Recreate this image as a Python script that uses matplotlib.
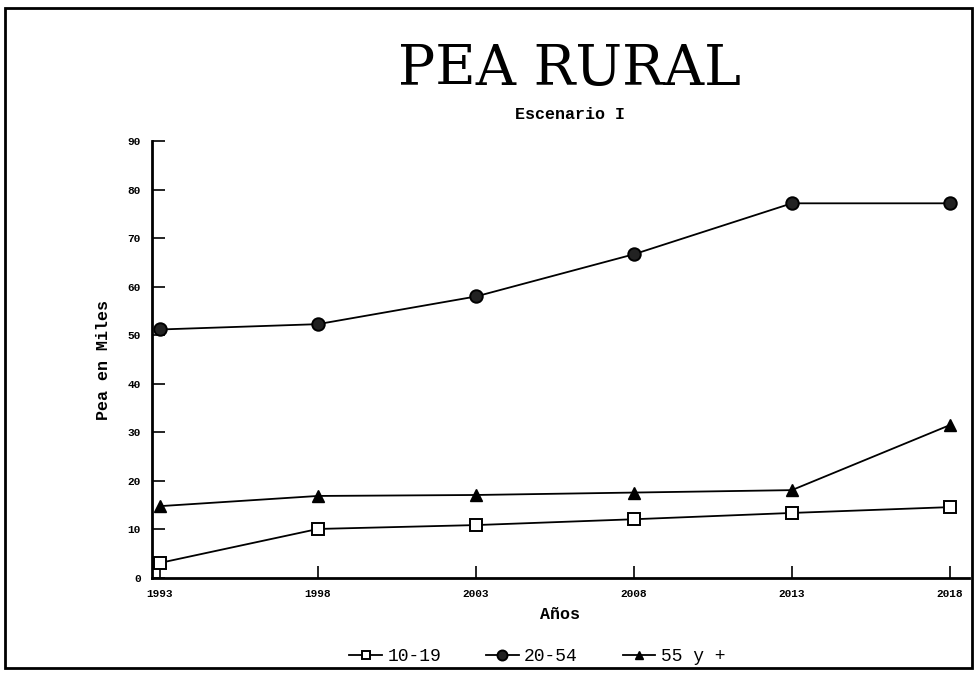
import matplotlib
matplotlib.use('Agg')
import matplotlib.pyplot as plt
from matplotlib.patches import Rectangle

plt.rcParams['font.family'] = ['Liberation Mono', 'DejaVu Sans Mono']

years = [1993, 1998, 2003, 2008, 2013, 2018]
year_labels = ['1993', '1998', '2003', '2008', '2013', '2018']
pea_10_19 = [3.1, 10.1, 10.9, 12.1, 13.4, 14.6]
pea_20_54 = [51.2, 52.3, 58.0, 66.7, 77.2, 77.2]
pea_55_mas = [14.8, 16.9, 17.1, 17.6, 18.1, 31.5]
series_names = ['10-19', '20-54', '55 y +']

fig = plt.figure(figsize=(9.77, 6.73), dpi=100)
ax = fig.add_axes([0.1556, 0.1412, 0.836, 0.649])

ax.plot(years, pea_10_19, color='black', lw=1.3, marker='s', ms=8,
        mfc='white', mec='black', mew=1.4, label=series_names[0])
ax.plot(years, pea_20_54, color='black', lw=1.3, marker='o', ms=9,
        mfc='#222222', mec='black', mew=1.4, label=series_names[1])
ax.plot(years, pea_55_mas, color='black', lw=1.3, marker='^', ms=8,
        mfc='black', mec='black', mew=1.0, label=series_names[2])

ax.set_ylim(0, 90)
ax.set_xlim(1992.75, 2018.6)
ax.set_yticks(range(0, 91, 10))
ax.set_xticks(years)
ax.set_xticklabels(year_labels)

for s in ['top', 'right']:
    ax.spines[s].set_visible(False)
for s in ['left', 'bottom']:
    ax.spines[s].set_linewidth(2)

ax.tick_params(direction='in', length=9, width=1.2, labelsize=8)
ax.tick_params(axis='y', pad=8)
ax.tick_params(axis='x', pad=8)
for lab in ax.get_xticklabels() + ax.get_yticklabels():
    lab.set_fontweight('bold')

ax.set_xlabel('Años', fontsize=12, fontweight='bold', labelpad=6)
ax.set_ylabel('Pea en Miles', fontsize=12, fontweight='bold', labelpad=12)

fig.text(0.583, 0.897, 'PEA RURAL', ha='center', va='center', fontsize=40,
         family='DejaVu Serif')
fig.text(0.583, 0.83, 'Escenario I', ha='center', va='center',
         fontsize=12, fontweight='bold')

fig.legend(loc='lower center', bbox_to_anchor=(0.55, -0.012), ncol=3,
           frameon=False, fontsize=13, handlelength=1.8, columnspacing=2.5,
           handletextpad=0.3, markerscale=0.8)

fig.patches.append(Rectangle((0.005, 0.008), 0.99, 0.98, fill=False,
                             lw=2, ec='black', transform=fig.transFigure))

plt.savefig('out.png', dpi=100)
